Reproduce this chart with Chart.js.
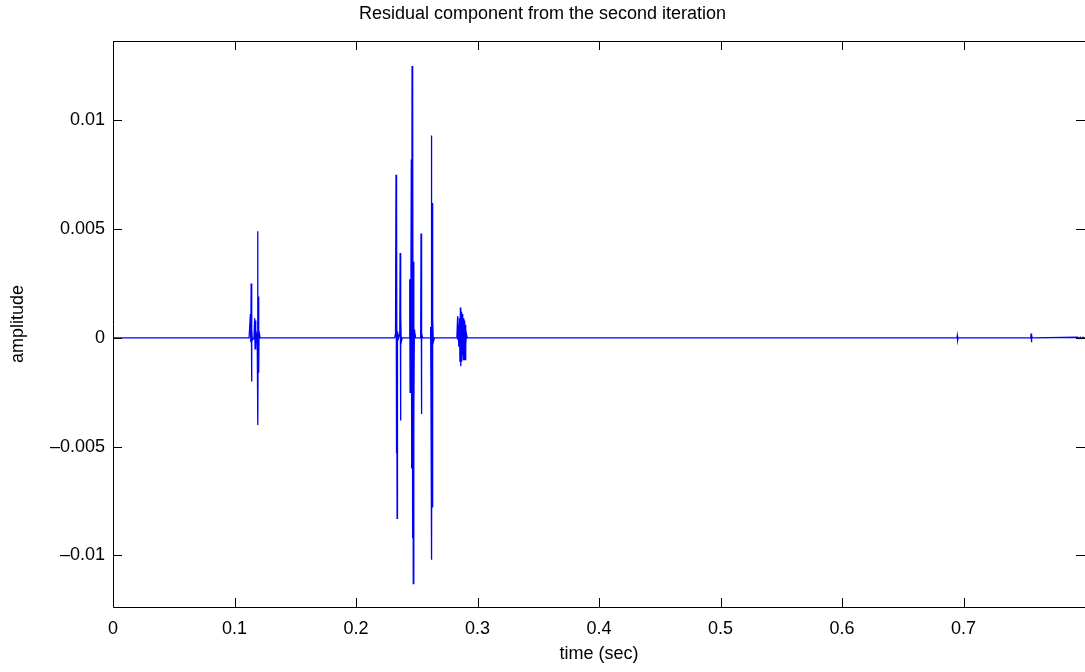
<!DOCTYPE html>
<html>
<head>
<meta charset="utf-8">
<script src="https://cdn.jsdelivr.net/npm/chart.js@4"></script>
<style>
  html, body { margin: 0; padding: 0; background: #fff; overflow: hidden; }
  #wrap { width: 1085px; height: 672px; position: relative; }
</style>
</head>
<body>
<div id="wrap"><canvas id="c"></canvas></div>
<script>
// Residuum po drugiej iteracji: próbki (czas [s], amplituda).
const times = [
  0, 0.1120, 0.1131, 0.1134, 0.1137, 0.1140, 0.1143, 0.1147, 0.1160,
  0.1166, 0.1169, 0.1173, 0.1176, 0.1180, 0.1187, 0.1190, 0.1193, 0.1196,
  0.1199, 0.1202, 0.1210,
  0.2318, 0.2325, 0.2329, 0.2332, 0.2335, 0.2338, 0.2341, 0.2350,
  0.2360, 0.2363, 0.2366, 0.2369, 0.2372, 0.2380,
  0.2438, 0.2442, 0.2445, 0.2448, 0.2451, 0.2455, 0.2458, 0.2461, 0.2464,
  0.2468, 0.2471, 0.2474, 0.2477, 0.2480, 0.2490,
  0.2532, 0.2535, 0.2538, 0.2541, 0.2548,
  0.2610, 0.2614, 0.2617, 0.2620, 0.2623, 0.2626, 0.2629, 0.2632, 0.2636, 0.2645,
  0.2830, 0.2836, 0.2838, 0.2841, 0.2846, 0.2852, 0.2855, 0.2859, 0.2862,
  0.2866, 0.2869, 0.2873, 0.2876, 0.2880, 0.2883, 0.2887, 0.2890, 0.2894,
  0.2897, 0.2901, 0.2904, 0.2908, 0.2915,
  0.6945, 0.6948, 0.6951, 0.6955,
  0.7553, 0.7555, 0.7558, 0.7561, 0.7565,
  0.7940, 0.7950, 0.7960, 0.7970, 0.7980, 0.7999,
];
const amps = [
  0, 0, 0.0011, -0.0002, 0.0025, -0.0020, 0.0004, -0.0001, 0,
  0.0009, -0.0005, 0.0008, -0.0004, 0.0002, 0, 0.0049, -0.0040, 0.0019,
  -0.0016, 0.0003, 0,
  0, 0.0002, 0.0075, -0.0053, 0.0062, -0.0083, 0.0003, 0,
  0.0002, 0.0039, -0.0038, 0.0010, -0.0002, 0,
  0, 0.0027, -0.0025, 0.0018, -0.0014, 0.0082, -0.0060, 0.0125, -0.0092,
  0.0110, -0.0113, 0.0035, -0.0035, 0.0004, 0,
  0, 0.0048, -0.0035, 0.0002, 0,
  0, 0.0005, -0.0027, 0.0093, -0.0102, 0.0062, -0.0078, 0.0009, -0.0002, 0,
  0, 0.0010, -0.0001, 0.0006, -0.0004, 0.0009, -0.0011, 0.0014, -0.0013,
  0.0012, -0.0011, 0.0011, -0.0008, 0.0010, -0.0010, 0.0009, -0.0006, 0.0008,
  -0.0010, 0.0006, -0.0004, 0.0002, 0,
  0, 0.0001, -0.0001, 0,
  0, 0.0002, -0.0002, 0.0001, 0,
  0.00003, -0.00003, 0.00003, -0.00003, 0.00003, 0,
];
const xTicks = [0, 0.1, 0.2, 0.3, 0.4, 0.5, 0.6, 0.7];
const yTicks = [-0.01, -0.005, 0, 0.005, 0.01];

const FONT = { family: "'Liberation Sans', Arial, Helvetica, sans-serif", size: 18 };
const TICK_LEN = 9;

// MATLAB: etykiety z długim minusem
const fmt = (v) => String(Number(v.toFixed(4))).replace("-", "\u2013");

// Ramka osi + znaczniki skierowane do środka, na wszystkich czterech bokach.
const boxPlugin = {
  id: "box",
  afterDatasetsDraw(chart) {
    const { ctx, chartArea: a, scales: { x, y } } = chart;
    ctx.save();
    ctx.strokeStyle = "#000";
    ctx.lineWidth = 1;
    ctx.beginPath();
    ctx.moveTo(a.left + 0.5, a.top + 0.5);
    ctx.lineTo(a.right + 0.5, a.top + 0.5);
    ctx.lineTo(a.right + 0.5, a.bottom + 0.5);
    ctx.lineTo(a.left + 0.5, a.bottom + 0.5);
    ctx.closePath();
    ctx.stroke();
    ctx.beginPath();
    x.ticks.forEach((t) => {
      const px = Math.round(x.getPixelForValue(t.value)) + 0.5;
      ctx.moveTo(px, a.bottom); ctx.lineTo(px, a.bottom - TICK_LEN);
      ctx.moveTo(px, a.top); ctx.lineTo(px, a.top + TICK_LEN);
    });
    y.ticks.forEach((t) => {
      const py = Math.round(y.getPixelForValue(t.value)) + 0.5;
      ctx.moveTo(a.left, py); ctx.lineTo(a.left + TICK_LEN, py);
      ctx.moveTo(a.right, py); ctx.lineTo(a.right - TICK_LEN, py);
    });
    ctx.stroke();
    ctx.restore();
  },
};

new Chart(document.getElementById("c"), {
  type: "line",
  data: {
    datasets: [{
      data: times.map((t, i) => ({ x: t, y: amps[i] })),
      borderColor: "#0000ff", borderWidth: 1.3, pointRadius: 0, tension: 0,
    }],
  },
  options: {
    responsive: true, maintainAspectRatio: false, animation: false,
    layout: { padding: 0 },
    plugins: {
      legend: { display: false },
      tooltip: { enabled: false },
      title: {
        display: true, text: "Residual component from the second iteration",
        color: "#000", font: { ...FONT, weight: "normal" },
        padding: { top: 3, bottom: 16.4 },
      },
    },
    scales: {
      x: {
        type: "linear", min: 0, max: 0.7999,
        afterBuildTicks: (s) => { s.ticks = xTicks.map((v) => ({ value: v })); },
        afterFit: (s) => { s.height = 65; },
        grid: { display: false, drawTicks: false },
        border: { display: false },
        ticks: { font: FONT, color: "#000", padding: 11, maxRotation: 0, callback: fmt },
        title: { display: true, text: "time (sec)", color: "#000", font: FONT, padding: { top: 0, bottom: 7 } },
      },
      y: {
        type: "linear", min: -0.01237, max: 0.01365,
        afterBuildTicks: (s) => { s.ticks = yTicks.map((v) => ({ value: v })); },
        afterFit: (s) => { s.width = 113; },
        grid: { display: false, drawTicks: false },
        border: { display: false },
        ticks: { font: FONT, color: "#000", padding: 8, callback: fmt },
        title: { display: true, text: "amplitude", color: "#000", font: FONT, padding: { top: 7, bottom: 0 } },
      },
    },
  },
  plugins: [boxPlugin],
});
</script>
</body>
</html>
